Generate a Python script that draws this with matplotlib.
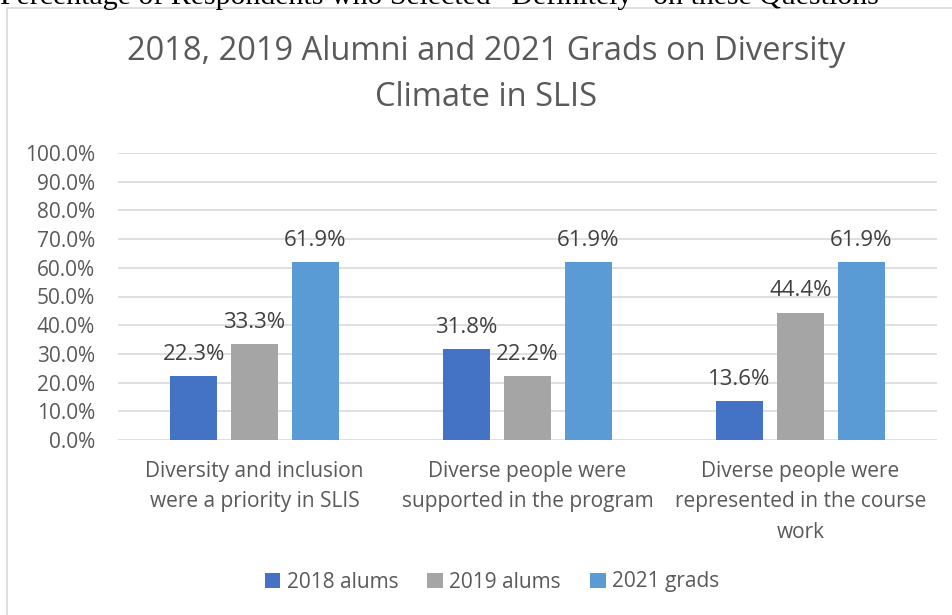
import matplotlib
matplotlib.use("Agg")
import matplotlib.pyplot as plt
import numpy as np
from matplotlib.patches import Rectangle

categories = ["Diversity and inclusion\nwere a priority in SLIS",
              "Diverse people were\nsupported in the program",
              "Diverse people were\nrepresented in the course\nwork"]
series_names = ["2018 alums", "2019 alums", "2021 grads"]
alums_2018 = [0.223, 0.318, 0.136]
alums_2019 = [0.333, 0.222, 0.444]
grads_2021 = [0.619, 0.619, 0.619]
colors = ["#4472C4", "#A5A5A5", "#5B9BD5"]
yticks = [i / 10 for i in range(11)]
ytick_labels = [f"{v*100:.1f}%" for v in yticks]

TXT = "#595959"
FONT = "Open Sans"
plt.rcParams['font.family'] = [FONT, 'DejaVu Sans']

W, H = 952, 615
fig = plt.figure(figsize=(W / 100, H / 100), dpi=100)

# chart frame
fig.patches.append(Rectangle((7 / W, -0.1), 1.2, 1 - 7.5 / H + 0.1, transform=fig.transFigure,
                             fill=False, edgecolor="#D9D9D9", lw=1.2))
# clipped document text above the chart
fig.text(0.0, 1 - 3.5 / H, "Percentage of Respondents who Selected \u201cDefinitely\u201d on these Questions",
         family="Liberation Serif", fontsize=21.5, color="black", va="baseline", ha="left")

ax = fig.add_axes([118 / W, 1 - 440 / H, (937 - 118) / W, (440 - 153) / H])
x = np.arange(len(categories))
bw = 0.172
step = 0.223
all_series = [alums_2018, alums_2019, grads_2021]
for i, (name, vals) in enumerate(zip(series_names, all_series)):
    pos = x + (i - 1) * step
    ax.bar(pos, vals, width=bw, color=colors[i], label=name, zorder=3)
    for xb, v in zip(pos, vals):
        ax.annotate(f"{v*100:.1f}%", (xb, v), xytext=(0, 8), textcoords="offset points",
                    ha="center", va="bottom", fontsize=16, color="#404040")

ax.set_xlim(-0.5, 2.5)
ax.set_ylim(0, 1.0)
ax.set_yticks(yticks)
ax.set_yticklabels(ytick_labels, fontsize=15, color=TXT)
ax.set_xticks(x)
ax.set_xticklabels(categories, fontsize=15, color=TXT, linespacing=1.6)
ax.tick_params(axis="both", length=0)
ax.tick_params(axis="y", pad=16.5)
ax.tick_params(axis="x", pad=15)
ax.yaxis.grid(True, color="#D9D9D9", lw=1.2, zorder=0)
for s in ax.spines.values():
    s.set_visible(False)

fig.text(486 / W, 1 - 52 / H, "2018, 2019 Alumni and 2021 Grads on Diversity", ha="center", va="center",
         fontsize=23.5, color=TXT)
fig.text(486 / W, 1 - 97 / H, "Climate in SLIS", ha="center", va="center",
         fontsize=23.5, color=TXT)

handles, labels = ax.get_legend_handles_labels()
fig.legend(handles, labels, loc="center", bbox_to_anchor=(492 / W, 1 - 582 / H), ncol=3,
           frameon=False, fontsize=15, labelcolor=TXT, handlelength=0.75, handleheight=0.75,
           handletextpad=0.3, columnspacing=1.4)

fig.savefig("out.png", dpi=100)
